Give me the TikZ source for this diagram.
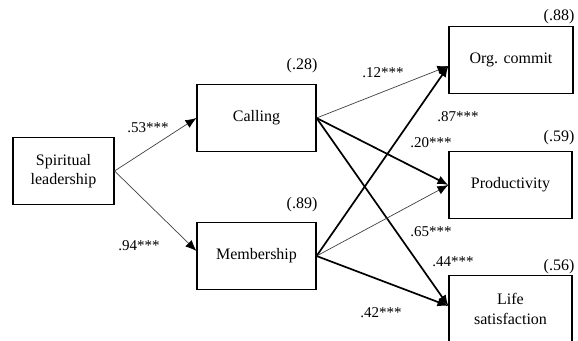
\documentclass[tikz,border=0pt]{standalone}
\usepackage{fontspec}
\setmainfont{Liberation Serif}
\usetikzlibrary{arrows.meta}

\begin{document}
\begin{tikzpicture}[
    x=1pt, y=-1pt,
    every node/.style={font=\fontsize{16}{19.5}\selectfont},
    var/.style={draw, line width=1.1pt, rectangle, align=center, inner sep=0pt,
                minimum height=67pt},
    est/.style={inner sep=0pt, font=\fontsize{15}{17}\selectfont},
    rsq/.style={inner sep=0pt},
    weak/.style={-{Latex[length=11pt,width=9pt,color=black]}, draw=black!75, line width=0.7pt},
    strong/.style={-{Latex[length=11pt,width=9pt]}, line width=1.7pt},
]
  \useasboundingbox (0,0) rectangle (578,340);
  \clip (0,0) rectangle (578,340);

  % variables
  \node [var, minimum width=101pt] (lead)  at (63.5,171)  {Spiritual\\leadership};
  \node [var, minimum width=119pt] (call)  at (256.5,118) {Calling};
  \node [var, minimum width=119pt] (memb)  at (256.5,256) {Membership};
  \node [var, minimum width=124pt] (org)   at (511,60)    {Org. commit};
  \node [var, minimum width=123pt] (prod)  at (510.5,185) {Productivity};
  \node [var, minimum width=123pt] (life)  at (510.5,309) {Life\\satisfaction};

  % explained variance
  \node [rsq] (rcall) at (302,66)  {(.28)};
  \node [rsq] (rmemb) at (302,205) {(.89)};
  \node [rsq] (rorg)  at (559,17)  {(.88)};
  \node [rsq] (rprod) at (559,138) {(.59)};
  \node [rsq] (rlife) at (559,267) {(.56)};

  % paths
  \draw [weak]   (lead.east) -- (call.west);
  \draw [weak]   (lead.east) -- ([yshift=5pt]memb.west);
  \draw [weak]   (call.east) -- ([yshift=-6pt]org.west);
  \draw [strong] (call.east) -- (prod.west);
  \draw [strong] (call.east) -- ([yshift=3pt]life.west);
  \draw [strong] (memb.east) -- ([yshift=-6pt]org.west);
  \draw [weak]   (memb.east) -- (prod.west);
  \draw [strong] (memb.east) -- ([yshift=3pt]life.west);

  % estimates
  \node [est] (e1) at (148,128) {.53***};
  \node [est] (e2) at (139,246) {.94***};
  \node [est] (e3) at (383,73)  {.12***};
  \node [est] (e4) at (458,117) {.87***};
  \node [est] (e5) at (431,143) {.20***};
  \node [est] (e6) at (431,232) {.65***};
  \node [est] (e7) at (453,262) {.44***};
  \node [est] (e8) at (381,313) {.42***};
\end{tikzpicture}
\end{document}
